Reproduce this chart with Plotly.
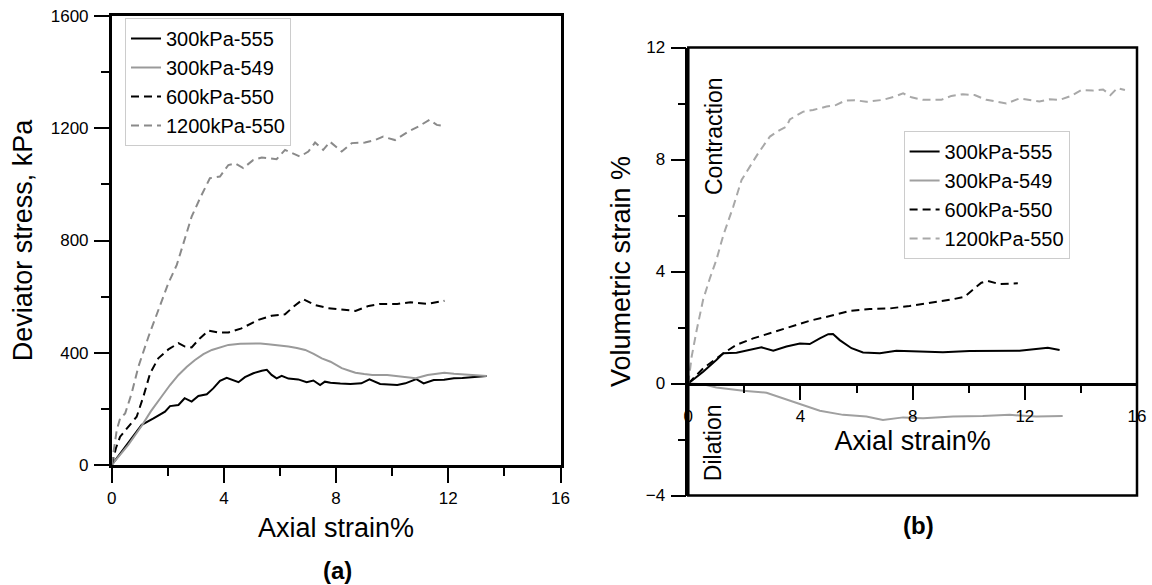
import plotly.graph_objects as go

# ---------------- data : panel (a) deviator stress ----------------
names = ["300kPa-555", "300kPa-549", "600kPa-550", "1200kPa-550"]

a_x_555 = [0, 0.3, 0.59, 1.07, 1.49, 1.9, 2.08, 2.38, 2.6, 2.85, 3.09, 3.39, 3.62, 3.86, 4.1, 4.34, 4.52,
           4.75, 5.05, 5.35, 5.53, 5.7, 5.88, 6.06, 6.3, 6.65, 6.95, 7.19, 7.43, 7.6, 7.8, 8.15, 8.51,
           8.9, 9.19, 9.57, 9.85, 10.18, 10.47, 10.86, 11.12, 11.48, 11.85, 12.2, 12.5, 12.8, 13.1, 13.37]
a_y_555 = [0, 40, 77, 143, 166, 190, 210, 214, 238, 226, 246, 252, 273, 300, 311, 303, 295,
           313, 327, 336, 339, 321, 309, 318, 308, 305, 295, 301, 285, 297, 293, 290, 289,
           291, 305, 289, 287, 285, 291, 306, 291, 303, 304, 309, 310, 312, 314, 317]

a_x_549 = [0, 0.3, 0.59, 1.07, 1.4, 1.78, 2.08, 2.38, 2.68, 2.97, 3.27, 3.57, 3.86, 4.16, 4.58, 4.99,
           5.3, 5.58, 5.95, 6.3, 6.6, 6.9, 7.2, 7.49, 7.8, 8.2, 8.5, 8.69, 9.0, 9.29, 9.82, 10.18,
           10.5, 10.84, 11.26, 11.86, 12.2, 12.57, 13.0, 13.37]
a_y_549 = [0, 35, 72, 140, 192, 244, 285, 321, 350, 374, 395, 410, 420, 428, 432, 434,
           433, 430, 427, 422, 417, 410, 396, 380, 368, 345, 335, 329, 324, 321, 321, 317,
           313, 309, 321, 329, 325, 323, 321, 317]

a_x_600 = [0, 0.15, 0.3, 0.59, 0.89, 1.13, 1.37, 1.66, 2.02, 2.38, 2.61, 2.85, 3.15, 3.45, 3.8, 4.16,
           4.63, 5.23, 5.7, 6.18, 6.48, 6.83, 7.25, 7.72, 8.2, 8.69, 9.16, 9.57, 10.18, 10.65, 11.26, 11.86]
a_y_600 = [0, 60, 101, 137, 172, 244, 327, 380, 412, 434, 422, 419, 452, 479, 472, 472,
           487, 517, 532, 537, 564, 591, 570, 559, 553, 549, 567, 574, 574, 580, 574, 585]

a_x_1200 = [0, 0.1, 0.18, 0.3, 0.48, 0.71, 0.95, 1.31, 1.66, 2.02, 2.32, 2.55, 2.85, 3.15, 3.5, 3.86,
            4.16, 4.4, 4.69, 5.05, 5.35, 5.64, 5.88, 6.18, 6.71, 7.01, 7.25, 7.54, 7.78, 8.2, 8.56,
            9.03, 9.39, 9.68, 10.1, 10.57, 10.93, 11.33, 11.59, 11.85]
a_y_1200 = [0, 70, 125, 166, 184, 255, 350, 457, 553, 648, 713, 790, 885, 951, 1022, 1028,
            1069, 1075, 1058, 1087, 1096, 1093, 1090, 1123, 1099, 1117, 1149, 1123, 1152, 1117, 1147,
            1149, 1158, 1170, 1158, 1188, 1206, 1230, 1212, 1208]

# ---------------- data : panel (b) volumetric strain ----------------
b_x_555 = [0, 0.53, 1.0, 1.25, 1.72, 2.2, 2.61, 3.03, 3.5, 3.98, 4.33, 4.69, 4.99, 5.16, 5.4, 5.82,
           6.23, 6.83, 7.42, 8.25, 9.08, 10.03, 10.98, 11.81, 12.4, 12.82, 13.24]
b_y_555 = [0, 0.42, 0.84, 1.08, 1.1, 1.2, 1.29, 1.17, 1.32, 1.43, 1.41, 1.61, 1.76, 1.77, 1.55, 1.26,
           1.11, 1.08, 1.17, 1.14, 1.12, 1.16, 1.17, 1.17, 1.23, 1.28, 1.2]

b_x_549 = [0, 0.53, 1.0, 1.96, 2.79, 3.38, 4.1, 4.69, 5.52, 6.35, 6.94, 7.66, 8.37, 9.44, 10.5,
           11.46, 12.4, 13.35]
b_y_549 = [0, -0.03, -0.14, -0.26, -0.33, -0.53, -0.77, -0.97, -1.12, -1.18, -1.3, -1.21, -1.24,
           -1.18, -1.16, -1.12, -1.18, -1.16]

b_x_600 = [0, 0.53, 1.25, 1.72, 2.31, 2.91, 3.62, 4.33, 5.05, 5.76, 6.47, 7.18, 7.89, 8.72, 9.44,
           9.85, 10.15, 10.45, 10.68, 11.1, 11.75]
b_y_600 = [0, 0.54, 1.08, 1.38, 1.61, 1.79, 2.03, 2.24, 2.41, 2.59, 2.66, 2.68, 2.77, 2.89, 3.01,
           3.1, 3.34, 3.6, 3.66, 3.55, 3.58]

b_x_1200 = [0, 0.12, 0.3, 0.53, 0.77, 1.0, 1.25, 1.6, 1.9, 2.2, 2.49, 2.91, 3.26, 3.5, 3.62, 4.1,
            4.45, 4.93, 5.28, 5.58, 5.94, 6.35, 6.94, 7.36, 7.66, 7.96, 8.37, 8.73, 9.02, 9.38, 9.79,
            10.21, 10.63, 10.98, 11.34, 11.81, 12.17, 12.52, 12.88, 13.24, 13.65, 14.01, 14.42,
            14.79, 15.05, 15.3, 15.57]
b_y_1200 = [0, 0.96, 1.91, 3.0, 3.76, 4.41, 5.3, 6.31, 7.27, 7.74, 8.22, 8.82, 9.05, 9.17, 9.43, 9.71,
            9.77, 9.89, 9.95, 10.1, 10.12, 10.06, 10.13, 10.25, 10.36, 10.22, 10.13, 10.13, 10.13,
            10.27, 10.33, 10.3, 10.13, 10.07, 10.0, 10.18, 10.13, 10.07, 10.15, 10.13, 10.27, 10.48,
            10.46, 10.5, 10.3, 10.55, 10.48]

x_ticks = [0, 4, 8, 12, 16]
a_y_ticks = [0, 400, 800, 1200, 1600]
b_y_ticks = [-4, 0, 4, 8, 12]

# ---------------- styles ----------------
FONT = "Liberation Sans, Arial, sans-serif"
W, H = 1152, 585
styles = [
    dict(color="black", width=2, dash="solid"),
    dict(color="#9a9a9a", width=2, dash="solid"),
    dict(color="black", width=2, dash="8px,5px"),
    dict(color="#8a8a8a", width=2, dash="8px,5px"),
]
styles_b = [
    dict(color="black", width=2, dash="solid"),
    dict(color="#a0a0a0", width=2, dash="solid"),
    dict(color="black", width=2, dash="8px,5px"),
    dict(color="#a8a8a8", width=2, dash="8px,5px"),
]

fig = go.Figure()
a_data = [(a_x_555, a_y_555), (a_x_549, a_y_549), (a_x_600, a_y_600), (a_x_1200, a_y_1200)]
b_data = [(b_x_555, b_y_555), (b_x_549, b_y_549), (b_x_600, b_y_600), (b_x_1200, b_y_1200)]
for (xs, ys), nm, st in zip(a_data, names, styles):
    fig.add_trace(go.Scatter(x=xs, y=ys, mode="lines", name=nm, line=st,
                             xaxis="x", yaxis="y", legend="legend"))
for (xs, ys), nm, st in zip(b_data, names, styles_b):
    fig.add_trace(go.Scatter(x=xs, y=ys, mode="lines", name=nm, line=st,
                             xaxis="x2", yaxis="y2", legend="legend2"))

# pixel layout helpers
def fx(px):
    return px / W

def fy(py):
    return 1 - py / H

a_dom_x = [fx(111.7), fx(560.5)]
a_dom_y = [fy(465), fy(16)]
b_dom_x = [fx(688.3), fx(1137)]
b_dom_y = [fy(495.5), fy(47.5)]
b_x_pos = b_dom_y[0] + (0 - (-4)) / 16 * (b_dom_y[1] - b_dom_y[0])

tickfont = dict(family=FONT, size=17, color="black")
titlefont = dict(family=FONT, size=27, color="black")
LW = 2.5

def minor(dt):
    return dict(dtick=dt, ticks="outside", ticklen=8, tickwidth=2, tickcolor="black", showgrid=False)

common = dict(showgrid=False, zeroline=False, showline=True, linecolor="black", linewidth=LW,
              ticks="outside", ticklen=15, tickwidth=2, tickcolor="black", tickfont=tickfont,
              automargin=False)

fig.update_layout(
    width=W, height=H,
    margin=dict(l=0, r=0, t=0, b=0, autoexpand=False),
    paper_bgcolor="white", plot_bgcolor="white",
    font=dict(family=FONT, color="black"),
    xaxis=dict(domain=a_dom_x, anchor="y", range=[0, 16], tickvals=x_ticks, mirror=True,
               minor=minor(2), ticklabelstandoff=1,
               title=dict(text="Axial strain%", font=titlefont, standoff=11), **common),
    yaxis=dict(domain=a_dom_y, anchor="x", range=[0, 1600], tickvals=a_y_ticks, mirror=True,
               minor=minor(200), ticklabelstandoff=2,
               title=dict(text="Deviator stress, kPa", font=titlefont, standoff=11), **common),
    xaxis2=dict(domain=b_dom_x, anchor="free", position=b_x_pos, range=[0, 16], tickvals=x_ticks,
                minor=minor(2), ticklabelstandoff=1,
                title=dict(text="Axial strain%", font=titlefont, standoff=4), **common),
    yaxis2=dict(domain=b_dom_y, anchor="x2", range=[-4, 12], tickvals=b_y_ticks,
                minor=minor(2), ticklabelstandoff=2,
                title=dict(text="Volumetric strain %", font=titlefont, standoff=8), **common),
    legend=dict(x=fx(125), y=fy(18), xanchor="left", yanchor="top",
                bgcolor="rgba(255,255,255,0.9)", bordercolor="#cccccc", borderwidth=1,
                font=dict(family=FONT, size=20, color="black")),
    legend2=dict(x=fx(903.6), y=fy(131), xanchor="left", yanchor="top",
                 bgcolor="rgba(255,255,255,0.9)", bordercolor="#cccccc", borderwidth=1,
                 font=dict(family=FONT, size=20, color="black")),
    showlegend=True,
)

# frame of panel (b)
fig.add_shape(type="rect", xref="x2 domain", yref="y2 domain", x0=0, x1=1, y0=0, y1=1,
              line=dict(color="black", width=LW), fillcolor="rgba(0,0,0,0)", layer="above")

ann_font = dict(family=FONT, size=23, color="black")
centered = dict(xref="paper", yref="paper", showarrow=False, xanchor="center", yanchor="middle")
fig.add_annotation(text="Contraction", x=fx(714), y=fy(136), textangle=-90, font=ann_font, **centered)
fig.add_annotation(text="Dilation", x=fx(712.7), y=fy(442.5), textangle=-90, font=ann_font, **centered)
fig.add_annotation(text="<b>(a)</b>", x=fx(337), y=fy(570),
                   font=dict(family=FONT, size=24, color="black"), **centered)
fig.add_annotation(text="<b>(b)</b>", x=fx(918), y=fy(525),
                   font=dict(family=FONT, size=24, color="black"), **centered)

fig.write_html("out.html", config={"displayModeBar": False},
               post_script="document.body.style.margin='0px';document.body.style.overflow='hidden';")
